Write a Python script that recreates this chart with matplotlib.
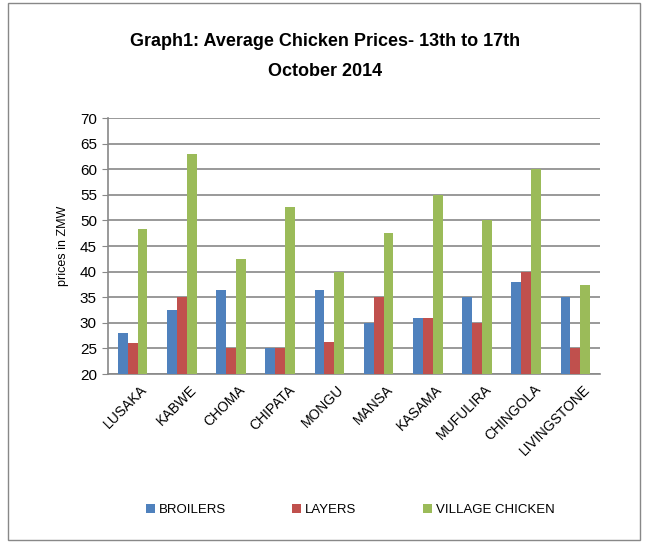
import matplotlib
matplotlib.use("Agg")
import matplotlib.pyplot as plt
import numpy as np
from matplotlib.patches import Rectangle

categories = ["LUSAKA", "KABWE", "CHOMA", "CHIPATA", "MONGU", "MANSA",
              "KASAMA", "MUFULIRA", "CHINGOLA", "LIVINGSTONE"]
broilers = [28, 32.5, 36.5, 25, 36.5, 30, 31, 35, 38, 35]
layers = [26, 35, 25, 25, 26.3, 35, 31, 30, 40, 25]
village = [48.3, 63, 42.5, 52.7, 40, 47.5, 55, 50, 60, 37.3]
series_names = ["BROILERS", "LAYERS", "VILLAGE CHICKEN"]
colors = ["#4F81BD", "#C0504D", "#9BBB59"]

plt.rcParams['font.family'] = ['Liberation Sans', 'DejaVu Sans']

fig = plt.figure(figsize=(6.47, 5.45), dpi=100)
ax = fig.add_axes([108/647, 1 - 374/545, (600-108)/647, (374-118)/545])

x = np.arange(len(categories))
w = 0.2
for i, (vals, name, c) in enumerate(zip([broilers, layers, village], series_names, colors)):
    ax.bar(x + (i - 1) * w, np.array(vals) - 20, w, bottom=20, color=c, label=name, zorder=3)

ax.set_ylim(20, 70)
ax.set_xlim(-0.5, len(categories) - 0.5)
ax.set_yticks(range(20, 71, 5))
ax.tick_params(axis='y', labelsize=11, length=4, color='#888888', pad=4)
ax.yaxis.grid(True, color='#888888', linewidth=1.2, zorder=0)
ax.set_xticks(x + 0.15)
ax.set_xticklabels(categories, rotation=45, ha='right', rotation_mode='anchor', fontsize=10)
ax.tick_params(axis='x', length=0, pad=6)
for s in ['top', 'right']:
    ax.spines[s].set_visible(False)
ax.spines['left'].set_color('#888888')
ax.spines['bottom'].set_color('#888888')
ax.spines['left'].set_linewidth(1.2)
ax.spines['bottom'].set_linewidth(1.2)
ax.set_ylabel("prices in ZMW", fontsize=9, labelpad=8)

fig.text(325/647, 1 - 42/545, "Graph1: Average Chicken Prices- 13th to 17th",
         ha='center', va='center', fontsize=13, fontweight='bold')
fig.text(325/647, 1 - 71/545, "October 2014",
         ha='center', va='center', fontsize=13, fontweight='bold')

fig.legend(loc='center', bbox_to_anchor=(350/647, 1 - 510/545), ncol=3,
           frameon=False, fontsize=9.5, handlelength=0.7, handleheight=0.7,
           columnspacing=5, handletextpad=0.3)

fig.patches.append(Rectangle((8/647, 0.01), 632/647, 0.985, transform=fig.transFigure,
                             fill=False, edgecolor='#888888', linewidth=1))

fig.savefig("out.png", dpi=100)
